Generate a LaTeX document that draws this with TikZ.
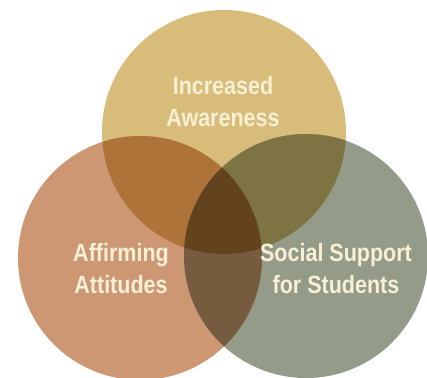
\documentclass[tikz,border=0pt]{standalone}
\usepackage{fontspec}
\setmainfont{Liberation Sans}[FakeStretch=0.86]
\definecolor{topc}{HTML}{D8BC79}
\definecolor{leftc}{HTML}{CD9774}
\definecolor{rightc}{HTML}{949B89}
\definecolor{tlc}{HTML}{AD7339}
\definecolor{trc}{HTML}{7E7443}
\definecolor{lrc}{HTML}{765B3F}
\definecolor{allc}{HTML}{63431E}
\definecolor{txtc}{HTML}{F7F0D4}
\tikzset{
  lbl/.style={text=txtc, align=center, inner sep=0pt,
    font=\fontsize{25}{32}\selectfont\bfseries},
}
\begin{document}
\begin{tikzpicture}[x=1pt,y=-1pt]
\useasboundingbox (0,0) rectangle (427,377);
\coordinate (T) at (224,132);
\coordinate (L) at (140,258);
\coordinate (R) at (306,256);
\def\rr{122}
\fill[topc] (T) circle[radius=\rr];
\fill[leftc] (L) circle[radius=\rr];
\fill[rightc] (R) circle[radius=\rr];
\begin{scope}
  \clip (T) circle[radius=\rr];
  \fill[tlc] (L) circle[radius=\rr];
  \fill[trc] (R) circle[radius=\rr];
\end{scope}
\begin{scope}
  \clip (L) circle[radius=\rr];
  \fill[lrc] (R) circle[radius=\rr];
\end{scope}
\begin{scope}
  \clip (T) circle[radius=\rr];
  \clip (L) circle[radius=\rr];
  \fill[allc] (R) circle[radius=\rr];
\end{scope}
\node[lbl] (t) at (223,101.5) {Increased\\Awareness};
\node[lbl] (l) at (121,268.5) {Affirming\\Attitudes};
\node[lbl] (r) at (336,268.5) {Social Support\\for Students};
\end{tikzpicture}
\end{document}
